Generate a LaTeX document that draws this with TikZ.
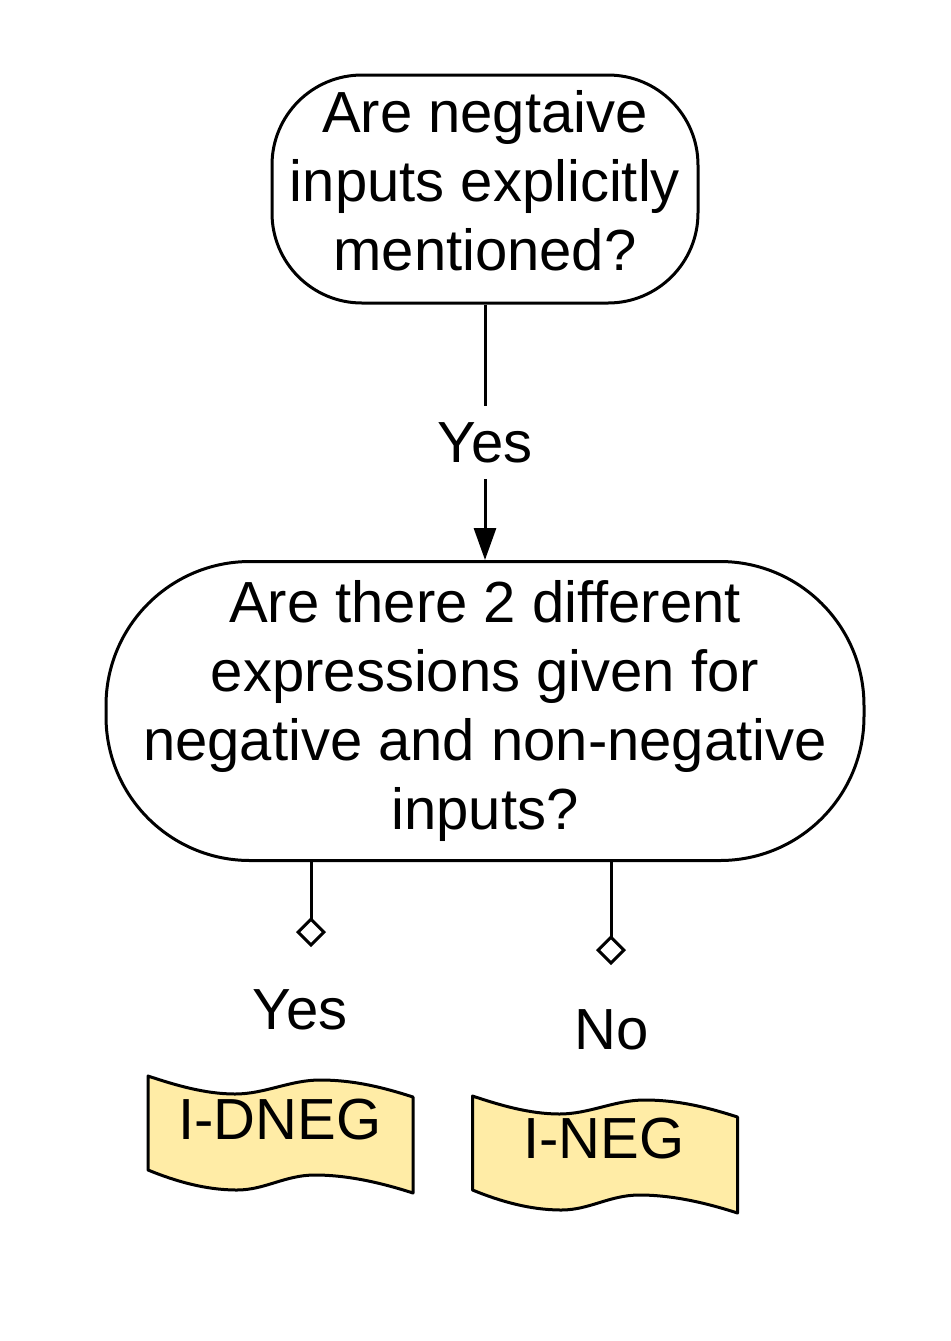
\documentclass[tikz,border=0pt]{standalone}
\usepackage{fontspec}
\setmainfont{Liberation Sans}
\usetikzlibrary{arrows.meta,positioning}
\tikzset{>={Triangle[width=11pt,length=16pt]}}
\definecolor{tapefill}{RGB}{255,236,166}

\begin{document}
\begin{tikzpicture}[x=0.5pt,y=-0.5pt,line width=1.5pt,
  every node/.style={font=\fontsize{29}{34.5}\selectfont, align=center},
  question/.style={draw, rounded corners=#1, inner sep=2pt},
  tapebox/.style={draw, fill=tapefill, line join=round},
  branch/.style={-{Diamond[open,width=15pt,length=15pt]}}]

  \newcommand\tapeat[2]{
    \draw[tapebox, shift={(#1,#2)}]
      (-132,-57) .. controls (-105,-48) and (-75,-39) .. (-45,-39)
      .. controls (-15,-39) and (10,-53) .. (40,-53)
      .. controls (75,-53) and (105,-45) .. (133,-36)
      -- (133,60)
      .. controls (105,51) and (70,42) .. (35,42)
      .. controls (5,42) and (-15,57) .. (-43,57)
      .. controls (-75,57) and (-105,48) .. (-132,37) -- cycle;}

  \useasboundingbox (0,0) rectangle (951,1341);

  % questions
  \node[question=45pt, minimum width=213pt, minimum height=114pt, text depth=9pt] (q1) at (485,189)
    {Are negtaive\\inputs explicitly\\mentioned?};
  \node[question=72pt, minimum width=379pt, minimum height=149.5pt] (q2) at (485,711)
    {Are there 2 different\\expressions given for\\negative and non-negative\\inputs?};

  \draw[->] (q1) -- node[fill=white, inner sep=8pt, pos=0.54] (yes1) {Yes} (q2);

  % answers
  \coordinate (yestip) at (311,947);
  \coordinate (notip) at (611,965);
  \draw[branch] (q2.south -| yestip) -- (yestip);
  \draw[branch] (q2.south -| notip) -- (notip);

  \node (yes2) at (300,1010) {Yes};
  \node (no) at (612,1030) {No};

  \tapeat{280}{1133}
  \tapeat{604.5}{1153}
  \node (dneg) at (280,1120) {I-DNEG};
  \node (neg) at (604,1139) {I-NEG};
\end{tikzpicture}
\end{document}
